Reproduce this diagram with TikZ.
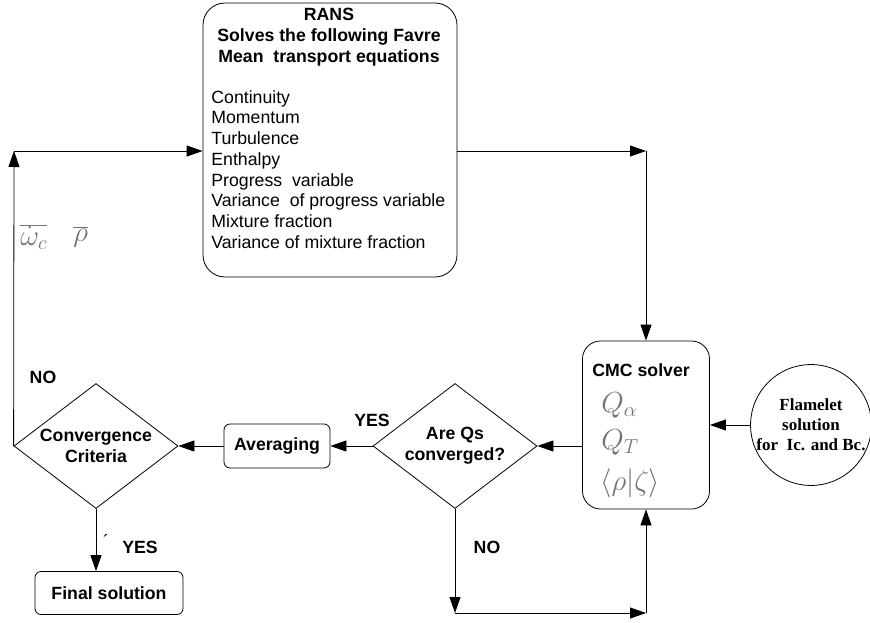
\RequirePackage{fix-cm}
\documentclass[tikz,border=0pt]{standalone}
\usepackage{fontspec}
\setmainfont{Liberation Sans}
\newfontfamily\flamefont{Liberation Serif}
\usetikzlibrary{shapes.geometric,arrows.meta}
\newcommand\bodysize{\fontsize{17.7}{20.7}\selectfont}
\newcommand\mathsize{\fontsize{29}{34}\selectfont}

\begin{document}
\begin{tikzpicture}[x=1pt,y=-1pt,line width=0.8pt,
    bigbox/.style={draw,rounded corners=22pt,inner sep=0pt},
    smallbox/.style={draw,rounded corners=6pt,inner sep=0pt,font=\bodysize\bfseries},
    decision/.style={draw,diamond,aspect=1.3,inner sep=0pt,align=center,font=\bodysize\bfseries},
    flow/.style={-{Triangle[length=16pt,width=11pt]}},
    tag/.style={font=\bodysize\bfseries},
    plain/.style={font=\bodysize,inner sep=0pt},
    mathtag/.style={font=\mathsize,text=black!55,inner sep=0pt}]
  \useasboundingbox (0,0) rectangle (870,623);

  % RANS block
  \node[bigbox,minimum width=254,minimum height=274] (rans) at (330,140) {};
  \node[tag,align=center,anchor=north,inner sep=0pt] (ranshead) at (329,8)
    {RANS\\Solves the following Favre\\Mean~~transport equations};
  \node[plain,align=left,anchor=north west] (ranslist) at (211,90)
    {Continuity\\Momentum\\Turbulence\\Enthalpy\\Progress~~variable\\
     Variance~~of progress variable\\Mixture fraction\\Variance of mixture fraction};

  % CMC block
  \node[bigbox,rounded corners=18pt,minimum width=127,minimum height=168] (cmc) at (646,425) {};
  \node[tag,anchor=west,inner sep=0pt] (cmchead) at (592,370) {CMC solver};
  \node[mathtag,anchor=west] (qalpha) at (601,405) {$Q_\alpha$};
  \node[mathtag,anchor=west] (qtemp) at (601,442) {$Q_T$};
  \node[mathtag,anchor=west] (rhocond) at (600,483) {$\langle\rho|\zeta\rangle$};

  \node[draw,circle,minimum size=120,inner sep=0pt,align=center,
        font=\flamefont\bfseries\fontsize{17}{20}\selectfont] (flame) at (811,425)
    {Flamelet\\solution\\for~~Ic. and Bc.};

  % decisions and boxes
  \node[decision,minimum width=164,minimum height=125] (qs) at (455,446) {Are Qs\\converged?};
  \node[smallbox,minimum width=106,minimum height=44] (avg) at (277,446) {Averaging};
  \node[decision,minimum width=164,minimum height=125] (conv) at (96,446) {Convergence\\Criteria};
  \node[smallbox,minimum width=148,minimum height=43] (final) at (109,593) {Final solution};

  % turning points
  \coordinate (turnup) at (14,151);
  \coordinate (cmcturn) at (646,151);
  \coordinate (nodown) at (455,613);

  % connectors
  \draw[flow] (conv.west) -- (turnup);
  \draw[flow] (turnup) -- (turnup -| rans.west);
  \draw[flow] (rans.east |- cmcturn) -- (cmcturn);
  \draw[flow] (cmcturn) -- (cmc.north);
  \draw[flow] (flame.west) -- (cmc.east);
  \draw[flow] (cmc.west |- qs.east) -- (qs.east);
  \draw[flow] (qs.west) -- (avg.east);
  \draw[flow] (avg.west) -- (conv.east);
  \draw[flow] (conv.south) -- (conv.south |- final.north);
  \draw[flow] (qs.south) -- (nodown);
  \draw[flow] (nodown) -- (nodown -| cmc.south);
  \draw[flow] (nodown -| cmc.south) -- (cmc.south);

  % labels
  \node[mathtag,anchor=west] (omegabar) at (20,237) {$\overline{\dot\omega_c}$};
  \node[mathtag,anchor=west] (rhobar) at (73,237) {$\overline{\rho}$};
  \node[tag] (noback) at (43,377) {NO};
  \node[tag] (yesavg) at (372,420) {YES};
  \node[plain] (tick) at (106,541) {´};
  \node[tag] (yesend) at (140,547) {YES};
  \node[tag] (noloop) at (487,547) {NO};
\end{tikzpicture}
\end{document}
